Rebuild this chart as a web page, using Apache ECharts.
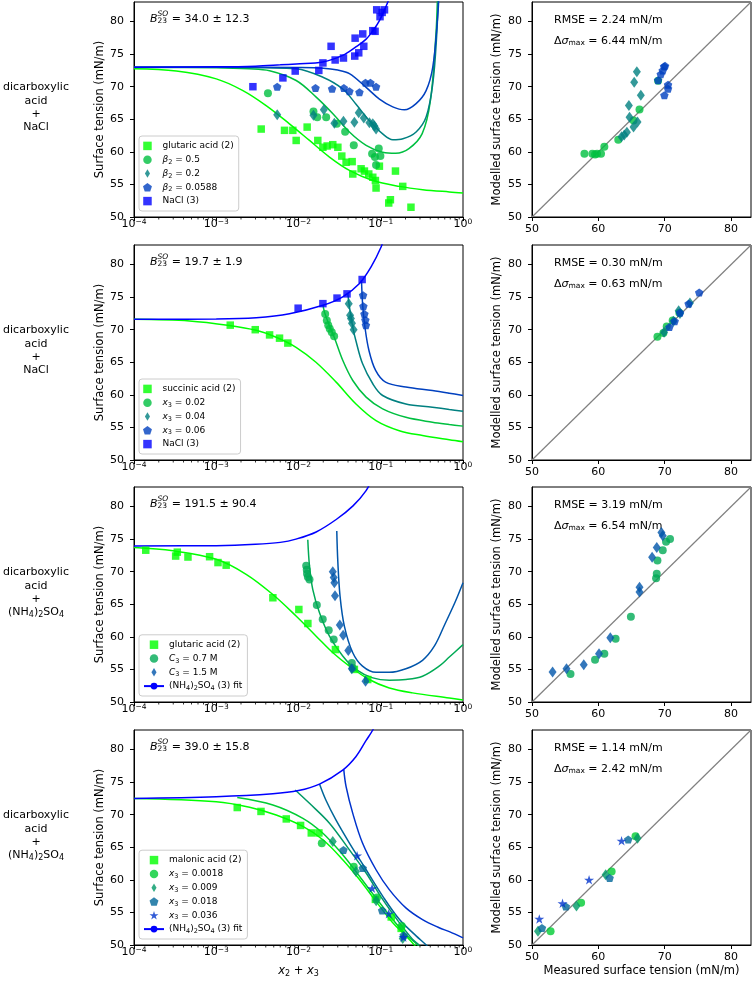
<!DOCTYPE html>
<html><head><meta charset="utf-8">
<script src="https://cdn.jsdelivr.net/npm/echarts@6/dist/echarts.min.js"></script>
<style>html,body{margin:0;padding:0;background:#fff}#c{width:753px;height:982px}</style>
</head><body><div id="c"></div>
<script>
// ================= DATA =================
const yTicks = [50, 55, 60, 65, 70, 75, 80];
const parityXTicks = [50, 60, 70, 80];
const minorTickValues = [2e-4,3e-4,4e-4,5e-4,6e-4,7e-4,8e-4,9e-4,2e-3,3e-3,4e-3,5e-3,6e-3,7e-3,8e-3,9e-3,0.02,0.03,0.04,0.05,0.06,0.07,0.08,0.09,0.2,0.3,0.4,0.5,0.6,0.7,0.8,0.9];
const rowLabels = ['{n|dicarboxylic}\n{n|acid}\n{n|+}\n{n|NaCl}','{n|dicarboxylic}\n{n|acid}\n{n|+}\n{n|NaCl}','{n|dicarboxylic}\n{n|acid}\n{n|+}\n{n|(NH}{s|4}{n|)}{s|2}{n|SO}{s|4}','{n|dicarboxylic}\n{n|acid}\n{n|+}\n{n|(NH}{s|4}{n|)}{s|2}{n|SO}{s|4}'];
const bValues = ['34.0 ± 12.3', '19.7 ± 1.9', '191.5 ± 90.4', '39.0 ± 15.8'];
const rmseValues = ['2.24', '0.30', '3.19', '1.14'];
const dmaxValues = ['6.44', '0.63', '6.54', '2.42'];

// ---- row 1 : glutaric acid + NaCl ----
const r1Glutaric = [[0.00352,63.5],[0.00676,63.3],[0.00853,63.3],[0.00937,61.75],[0.01274,63.8],[0.01717,61.75],[0.0198,60.7],[0.0223,60.9],[0.0261,61.1],[0.0301,60.7],[0.0336,59.35],[0.0379,58.4],[0.0449,58.5],[0.0457,56.6],[0.0577,57.4],[0.0633,57.05],[0.0715,56.6],[0.080,56.1],[0.0861,55.6],[0.0877,54.45],[0.0963,57.8],[0.125,52.15],[0.131,52.65],[0.151,57.05],[0.185,54.7],[0.233,51.5]];
const r1Beta05 = [[0.00425,69.0],[0.0152,66.2],[0.0169,65.3],[0.0217,65.3],[0.0292,64.3],[0.0369,63.1],[0.047,61.0],[0.0785,59.7],[0.085,59.2],[0.0877,58.0],[0.0946,60.5],[0.099,59.35]];
const r1Beta02 = [[0.00551,65.7],[0.0152,65.6],[0.0203,66.45],[0.0273,64.4],[0.0352,64.7],[0.0478,64.55],[0.054,66.0],[0.0622,65.2],[0.0728,64.45],[0.080,64.3],[0.0838,63.95],[0.0877,63.5]];
const r1Beta0588 = [[0.00551,70.0],[0.0161,69.8],[0.0256,69.7],[0.0356,69.8],[0.0416,69.3],[0.0551,69.15],[0.0652,70.6],[0.0749,70.6],[0.0877,70.0]];
const r1NaCl = [[0.00279,70.0],[0.00646,71.35],[0.00912,72.4],[0.01766,72.5],[0.0198,73.65],[0.0249,76.2],[0.0279,74.1],[0.0352,74.4],[0.0483,74.7],[0.0488,77.45],[0.054,75.2],[0.0604,78.1],[0.0622,76.2],[0.080,78.6],[0.0853,78.5],[0.0893,81.8],[0.098,80.75],[0.104,81.4],[0.111,81.8]];
const r1FitGlutaric = [[1e-4,72.75],[3.27e-4,72.4],[1e-3,71.2],[0.00211,69.4],[0.00404,67.1],[0.00776,64.3],[0.0136,61.75],[0.0238,59.2],[0.0416,57.15],[0.08,55.6],[0.169,54.7],[0.324,54.2],[0.682,53.85],[1,53.7]];
const r1FitBeta05 = [[1e-4,72.95],[1e-3,72.9],[0.0025,72.75],[0.00445,72.45],[0.00937,70.95],[0.0164,68.4],[0.0262,65.85],[0.0416,63.05],[0.0664,61.0],[0.1055,59.95],[0.152,59.8],[0.22,60.5],[0.319,62.8],[0.402,67.9],[0.469,78.1],[0.49,84]];
const r1FitBeta02 = [[1e-4,73.0],[1e-3,72.98],[0.004,72.9],[0.00937,72.75],[0.0198,71.45],[0.0345,69.65],[0.0498,67.35],[0.0723,64.8],[0.1055,62.75],[0.14,61.85],[0.186,62.0],[0.269,63.05],[0.356,65.35],[0.429,70.45],[0.48,78.1],[0.5,84]];
const r1FitBeta0588 = [[1e-4,73.0],[1e-3,73.0],[0.01,72.95],[0.02,72.85],[0.03,72.55],[0.0416,72.0],[0.0664,69.9],[0.0964,68.1],[0.14,66.9],[0.194,66.45],[0.269,67.4],[0.356,69.4],[0.429,73.0],[0.492,80.7],[0.51,84]];
const r1FitNaCl = [[1e-4,73.0],[1e-3,73.05],[0.003,73.15],[0.006,73.35],[0.0094,73.5],[0.0198,73.8],[0.0345,74.8],[0.0498,76.1],[0.0664,77.3],[0.0836,78.9],[0.096,80.1],[0.111,81.8],[0.122,83.0],[0.13,84]];
const r1ParBeta05 = [[57.9,59.7],[59.1,59.7],[59.5,59.6],[59.8,59.7],[60.4,59.7],[60.9,60.8],[63.0,61.85],[65.3,64.8],[66.2,66.5],[69.0,70.9]];
const r1ParBeta02 = [[63.5,62.3],[63.9,62.6],[64.3,63.0],[64.6,67.1],[64.7,65.3],[65.3,63.8],[65.4,70.7],[65.8,72.3],[65.9,64.6],[66.4,68.7]];
const r1ParBeta0588 = [[69.0,71.0],[69.4,71.9],[69.7,72.5],[69.9,73.1],[70.05,73.2],[69.95,68.7],[70.5,69.7],[70.5,70.3]];

// ---- row 2 : succinic acid + NaCl ----
const r2Succinic = [[0.00148,70.7],[0.00298,70.0],[0.00445,69.2],[0.00588,68.7],[0.00742,67.95]];
const r2X002 = [[0.0211,72.4],[0.0221,71.4],[0.0230,70.7],[0.0240,70.15],[0.0254,69.6],[0.0271,69.0]];
const r2X004 = [[0.0408,74.0],[0.0424,72.2],[0.0434,71.7],[0.0447,71.0],[0.0468,70.0]];
const r2X006 = [[0.061,75.3],[0.0615,73.6],[0.0633,72.4],[0.065,71.5],[0.066,70.7]];
const r2NaCl = [[0.0099,73.3],[0.0198,74.0],[0.0294,74.85],[0.0389,75.5],[0.0594,77.7]];
const r2FitSuccinic = [[1e-4,71.6],[4.74e-4,71.35],[0.00145,70.65],[0.00306,69.9],[0.00535,68.85],[0.00934,67.3],[0.0163,65.0],[0.0287,61.95],[0.05,58.6],[0.0876,56.05],[0.168,54.5],[0.322,53.75],[0.681,53.1],[1,52.8]];
const r2FitX002 = [[0.0198,73.8],[0.0207,72.7],[0.0237,70.65],[0.0272,68.85],[0.0345,65.3],[0.0457,62.2],[0.0664,59.65],[0.1055,57.85],[0.202,56.55],[0.425,55.8],[0.682,55.45],[1,55.2]];
const r2FitX004 = [[0.0397,75.65],[0.0416,73.5],[0.0457,70.4],[0.0498,68.35],[0.06,64.8],[0.08,61.7],[0.1055,59.9],[0.202,58.6],[0.425,58.1],[0.682,57.75],[1,57.5]];
const r2FitX006 = [[0.0583,77.6],[0.0605,73.5],[0.0642,70.4],[0.0719,66.8],[0.0866,63.75],[0.1145,61.95],[0.202,61.2],[0.425,60.65],[0.682,60.25],[1,59.9]];
const r2FitNaCl = [[1e-4,71.6],[1e-3,71.65],[0.00306,71.85],[0.00777,72.45],[0.0198,73.75],[0.0345,75.05],[0.0551,77.1],[0.0763,79.65],[0.101,82.7],[0.11,84.2]];
const r2ParX002 = [[68.9,68.9],[69.8,69.5],[70.3,70.5],[71.2,71.4],[72.2,72.6]];
const r2ParX004 = [[69.9,69.6],[71.3,71.3],[72.1,72.9],[72.3,72.5],[73.8,74.1]];
const r2ParX006 = [[70.7,70.4],[71.5,71.3],[72.3,72.6],[73.6,74.0],[75.2,75.7]];

// ---- row 3 : glutaric acid + (NH4)2SO4 ----
const r3Glutaric = [[0.000139,73.3],[0.000321,72.4],[0.000336,73.0],[0.000453,72.25],[0.00083,72.3],[0.00105,71.4],[0.00132,71.0],[0.00488,66.0],[0.0101,64.2],[0.013,62.05],[0.0281,58.05],[0.0478,55.0],[0.0695,53.45]];
const r3C07 = [[0.0124,70.9],[0.0126,70.3],[0.0127,69.7],[0.013,69.2],[0.0136,68.8],[0.0167,64.9],[0.0197,62.7],[0.0233,61.0],[0.0268,59.6],[0.0445,56.0],[0.0457,55.2]];
const r3C15 = [[0.0261,70.0],[0.0268,69.1],[0.0273,68.3],[0.0278,66.3],[0.0318,61.8],[0.0349,60.25],[0.0403,57.9],[0.0445,55.1],[0.0653,53.2]];
const r3FitGlutaric = [[1e-4,73.7],[2.98e-4,73.2],[1e-3,71.9],[0.00231,69.6],[0.00488,66.5],[0.00934,63.2],[0.0164,60.1],[0.0262,57.55],[0.0416,55.5],[0.0723,53.45],[0.127,52.15],[0.243,51.4],[0.682,50.6],[1,50.3]];
const r3FitC07 = [[0.01297,74.9],[0.0136,70.9],[0.0149,67.3],[0.018,63.7],[0.0238,60.1],[0.0345,57.05],[0.0498,55.0],[0.08,53.7],[0.127,53.35],[0.202,53.45],[0.322,53.95],[0.513,55.5],[0.682,56.9],[1,58.8]];
const r3FitC15 = [[0.0292,76.25],[0.0301,71.4],[0.032,66.25],[0.0361,61.65],[0.0457,57.55],[0.06,55.5],[0.0876,54.55],[0.127,54.55],[0.202,55.1],[0.322,56.4],[0.45,58.6],[0.6,61.9],[0.8,65.3],[1,68.3]];
const r3FitAS = [[1e-4,73.95],[1e-3,74.0],[0.003,74.2],[0.006,74.5],[0.0093,75.0],[0.0164,76.1],[0.029,78.05],[0.046,80.1],[0.066,82.4],[0.08,84.5]];
const r3ParC07 = [[55.8,54.3],[59.5,56.5],[60.9,57.4],[62.6,59.7],[64.9,63.1],[68.7,69.0],[68.8,69.7],[68.9,71.7],[69.7,73.3],[70.2,74.6],[70.8,75.0]];
const r3ParC15 = [[53.1,54.6],[55.2,55.1],[57.8,55.7],[60.1,57.4],[61.8,59.85],[66.2,67.6],[66.2,66.9],[68.1,72.2],[68.8,73.7],[69.5,76.0],[69.7,75.5]];

// ---- row 4 : malonic acid + (NH4)2SO4 ----
const r4Malonic = [[0.0018,71.1],[0.0035,70.5],[0.0071,69.35],[0.0106,68.35],[0.0143,67.2],[0.0177,67.2],[0.086,57.0],[0.134,54.3],[0.177,52.55]];
const r4X00018 = [[0.0192,65.6],[0.047,62.0],[0.09,57.3],[0.18,52.9]];
const r4X0009 = [[0.0261,65.9],[0.05,61.3],[0.088,56.8],[0.185,51.0]];
const r4X0018 = [[0.0352,64.6],[0.0604,61.8],[0.104,55.3],[0.19,51.5]];
const r4X0036 = [[0.0516,63.7],[0.0785,58.7],[0.125,54.8],[0.189,51.2]];
const r4FitMalonic = [[1e-4,72.5],[1e-3,72.0],[0.00254,71.15],[0.00535,69.95],[0.0113,68.2],[0.0198,66.15],[0.0345,63.1],[0.0551,60.05],[0.0876,56.7],[0.14,53.4],[0.202,51.4],[0.256,50.0],[0.29,49.0]];
const r4FitX00018 = [[0.0018,72.65],[0.00488,71.5],[0.0113,69.45],[0.0198,67.15],[0.0345,63.85],[0.0551,60.55],[0.0876,57.2],[0.14,53.9],[0.202,51.6],[0.281,50.0],[0.31,49.2]];
const r4FitX0009 = [[0.00912,73.8],[0.0136,71.75],[0.0238,68.7],[0.0416,64.6],[0.0664,61.05],[0.1055,57.0],[0.169,53.4],[0.243,50.9],[0.292,50.0],[0.32,49.3]];
const r4FitX0018 = [[0.018,74.7],[0.0215,72.25],[0.0285,69.2],[0.0416,65.65],[0.0664,61.55],[0.1055,57.5],[0.169,53.9],[0.269,51.4],[0.357,50.0],[0.4,49.3]];
const r4FitX0036 = [[0.0355,76.95],[0.0379,74.3],[0.0457,70.2],[0.06,65.65],[0.0876,61.55],[0.127,58.5],[0.202,55.7],[0.322,53.9],[0.513,52.65],[0.682,52.05],[1,51.1]];
const r4FitAS = [[1e-4,72.5],[1e-3,72.75],[0.00488,73.2],[0.01,73.7],[0.018,74.7],[0.0345,76.85],[0.0498,78.9],[0.0664,81.4],[0.08,83.0],[0.09,84.4]];
const r4ParX00018 = [[52.8,52.1],[57.4,56.5],[62.0,61.3],[65.6,66.7]];
const r4ParX0009 = [[50.9,52.1],[56.7,56.0],[61.1,60.8],[65.9,66.4]];
const r4ParX0018 = [[51.5,52.6],[55.1,55.9],[61.7,60.3],[64.5,66.2]];
const r4ParX0036 = [[51.1,54.0],[54.6,56.4],[58.6,60.0],[63.5,66.0]];

const identityLine = [[50,50],[83,83]];

// ================= STYLE / LAYOUT =================
const FONT = 'DejaVu Sans';
const ROW_TOP = [2, 245, 487, 730];
const PH = 215;
const LX = 134, LW = 329, RX = 532, RW = 219;
const CH = 982;
const Y_MIN = 50, Y_MAX = 83;

const C5 = ['#00ff00','#00bf40','#008080','#0040bf','#0000ff'];
const C4 = ['#00ff00','#00aa55','#0055aa','#0000ff'];
const C6 = ['#00ff00','#00cc33','#009966','#006699','#0033cc','#0000ff'];

const SQ = 'path://M0,0L10,0L10,10L0,10Z';
const DM = 'path://M3,0L6,5L3,10L0,5Z';
const PG = 'path://M10,0L19.51,6.91L15.88,18.09L4.12,18.09L0.49,6.91Z';
const ST = 'path://M10,0L12.245,6.91L19.51,6.91L13.63,11.18L15.88,18.09L10,13.82L4.12,18.09L6.37,11.18L0.49,6.91L7.755,6.91Z';
const SYM = {
  sq: {symbol: SQ, size: 7.5, icon: SQ},
  ci: {symbol: 'circle', size: 8, icon: 'circle'},
  dm: {symbol: DM, size: [8, 11], icon: DM},
  pg: {symbol: PG, size: [8.5, 8], icon: PG},
  st: {symbol: ST, size: [10, 9.5], icon: ST}
};

function scatter(name, data, g, sym, color) {
  return {type: 'scatter', name: name, data: data, xAxisIndex: g, yAxisIndex: g,
    symbol: SYM[sym].symbol, symbolSize: SYM[sym].size,
    itemStyle: {color: color, opacity: 0.8}, z: 3, silent: true, emphasis: {disabled: true}};
}
function fit(name, data, g, color) {
  return {type: 'line', name: name, data: data, xAxisIndex: g, yAxisIndex: g,
    symbol: 'none', showSymbol: false, smooth: 0.35,
    lineStyle: {color: color, width: 1.5}, itemStyle: {color: color}, z: 2, silent: true, emphasis: {disabled: true}};
}
function minorTicks(g) {
  return {type: 'custom', xAxisIndex: g, yAxisIndex: g, clip: false, silent: true, z: 5,
    data: minorTickValues.map(v => [v, Y_MIN]),
    renderItem: function (params, api) {
      const p = api.coord([api.value(0), api.value(1)]);
      return {type: 'line', shape: {x1: p[0], y1: p[1], x2: p[0], y2: p[1] + 2.5},
        style: {stroke: '#000', lineWidth: 0.8}};
    }};
}
function diag(g) {
  return {type: 'line', name: '_identity' + g, data: identityLine, xAxisIndex: g, yAxisIndex: g,
    symbol: 'none', lineStyle: {color: '#808080', width: 1.2}, z: 1, silent: true};
}

const LEG_RICH = {
  t: {fontSize: 9, fontFamily: FONT, color: '#000'},
  i: {fontSize: 9, fontFamily: FONT, fontStyle: 'italic', color: '#000'},
  s: {fontSize: 6.5, fontFamily: FONT, color: '#000', lineHeight: 7, padding: [5, 0, 0, 0]}
};
function richify(name) {
  let m = name.match(/^(β|x|C)(\d) = (.*)$/);
  if (m) return '{i|' + m[1] + '}{s|' + m[2] + '}{t| = ' + m[3] + '}';
  if (name.indexOf('(NH4)2SO4') === 0) return '{t|(NH}{s|4}{t|)}{s|2}{t|SO}{s|4}{t|' + name.slice(9) + '}';
  return '{t|' + name + '}';
}
function legend(r, items) {
  return {orient: 'vertical', left: LX + 5, bottom: CH - (ROW_TOP[r] + PH) + 6,
    data: items.map(it => it.icon ? {name: it.name, icon: SYM[it.icon].icon} : {name: it.name}),
    itemWidth: 20, itemHeight: 8.5, itemGap: 0, padding: [3, 5, 3, 4],
    borderColor: '#cccccc', borderWidth: 1, borderRadius: 3, backgroundColor: 'rgba(255,255,255,0.8)',
    selectedMode: false, formatter: richify,
    textStyle: {fontSize: 9, fontFamily: FONT, color: '#000', lineHeight: 13.8, rich: LEG_RICH}};
}

// ================= AXES =================
const grids = [], xAxes = [], yAxes = [];
const tickLabelStyle = {color: '#000', fontSize: 11, fontFamily: FONT};
const nameStyle = {color: '#000', fontSize: 11.5, fontFamily: FONT};
ROW_TOP.forEach((top) => {
  grids.push({left: LX, top: top, width: LW, height: PH, show: true, borderColor: '#000', borderWidth: 1, backgroundColor: 'transparent', containLabel: false, outerBoundsMode: 'none'});
});
ROW_TOP.forEach((top) => {
  grids.push({left: RX, top: top, width: RW, height: PH, show: true, borderColor: '#000', borderWidth: 1, backgroundColor: 'transparent', containLabel: false, outerBoundsMode: 'none'});
});
for (let r = 0; r < 4; r++) {
  const last = r === 3;
  xAxes.push({type: 'log', logBase: 10, gridIndex: r, min: 1e-4, max: 1, splitNumber: 4,
    axisLine: {show: true, lineStyle: {color: '#000', width: 1}},
    axisTick: {show: true, length: 4, lineStyle: {color: '#000', width: 1}},
    splitLine: {show: false}, minorTick: {show: false},
    axisLabel: {margin: 2, color: '#000', fontFamily: FONT,
      formatter: function (v) { const e = Math.round(Math.log10(v)); return '{b|10}{p|' + (e < 0 ? '−' : '') + Math.abs(e) + '}'; },
      rich: {b: {fontSize: 11, fontFamily: FONT, color: '#000', lineHeight: 11},
             p: {fontSize: 7.5, fontFamily: FONT, color: '#000', lineHeight: 7.5, padding: [0, 0, 5, 0]}}},
    name: last ? '{i|x}{s|2}{n| + }{i|x}{s|3}' : '', nameLocation: 'middle', nameGap: 20,
    nameTextStyle: {color: '#000', fontSize: 11.5, fontFamily: FONT,
      rich: {i: {fontSize: 11.5, fontFamily: FONT, fontStyle: 'italic', color: '#000'},
             n: {fontSize: 11.5, fontFamily: FONT, color: '#000'},
             s: {fontSize: 8, fontFamily: FONT, color: '#000', lineHeight: 8, padding: [5, 0, 0, 0]}}}
  });
  yAxes.push({type: 'value', gridIndex: r, min: Y_MIN, max: Y_MAX, interval: 5,
    axisLine: {show: true, lineStyle: {color: '#000', width: 1}},
    axisTick: {show: true, length: 4, lineStyle: {color: '#000', width: 1}, customValues: yTicks},
    axisLabel: Object.assign({margin: 10, customValues: yTicks}, tickLabelStyle),
    splitLine: {show: false},
    name: 'Surface tension (mN/m)', nameLocation: 'middle', nameGap: 28, nameTextStyle: nameStyle});
}
for (let r = 0; r < 4; r++) {
  const last = r === 3;
  xAxes.push({type: 'value', gridIndex: 4 + r, min: Y_MIN, max: Y_MAX, interval: 10,
    axisLine: {show: true, lineStyle: {color: '#000', width: 1}},
    axisTick: {show: true, length: 4, lineStyle: {color: '#000', width: 1}, customValues: parityXTicks},
    axisLabel: Object.assign({margin: 7, customValues: parityXTicks}, tickLabelStyle),
    splitLine: {show: false},
    name: last ? 'Measured surface tension (mN/m)' : '', nameLocation: 'middle', nameGap: 20, nameTextStyle: nameStyle});
  yAxes.push({type: 'value', gridIndex: 4 + r, min: Y_MIN, max: Y_MAX, interval: 5,
    axisLine: {show: true, lineStyle: {color: '#000', width: 1}},
    axisTick: {show: true, length: 4, lineStyle: {color: '#000', width: 1}, customValues: yTicks},
    axisLabel: Object.assign({margin: 10, customValues: yTicks}, tickLabelStyle),
    splitLine: {show: false},
    name: 'Modelled surface tension (mN/m)', nameLocation: 'middle', nameGap: 29, nameTextStyle: nameStyle});
}

// ================= SERIES =================
const series = [];
series.push(fit('_f1a', r1FitGlutaric, 0, C5[0]), fit('_f1b', r1FitBeta05, 0, C5[1]), fit('_f1c', r1FitBeta02, 0, C5[2]), fit('_f1d', r1FitBeta0588, 0, C5[3]), fit('_f1e', r1FitNaCl, 0, C5[4]));
series.push(scatter('glutaric acid (2)', r1Glutaric, 0, 'sq', C5[0]), scatter('β2 = 0.5', r1Beta05, 0, 'ci', C5[1]), scatter('β2 = 0.2', r1Beta02, 0, 'dm', C5[2]), scatter('β2 = 0.0588', r1Beta0588, 0, 'pg', C5[3]), scatter('NaCl (3)', r1NaCl, 0, 'sq', C5[4]));
series.push(fit('_f2a', r2FitSuccinic, 1, C5[0]), fit('_f2b', r2FitX002, 1, C5[1]), fit('_f2c', r2FitX004, 1, C5[2]), fit('_f2d', r2FitX006, 1, C5[3]), fit('_f2e', r2FitNaCl, 1, C5[4]));
series.push(scatter('succinic acid (2)', r2Succinic, 1, 'sq', C5[0]), scatter('x3 = 0.02', r2X002, 1, 'ci', C5[1]), scatter('x3 = 0.04', r2X004, 1, 'dm', C5[2]), scatter('x3 = 0.06', r2X006, 1, 'pg', C5[3]), scatter('NaCl (3)', r2NaCl, 1, 'sq', C5[4]));
series.push(fit('_f3a', r3FitGlutaric, 2, C4[0]), fit('_f3b', r3FitC07, 2, C4[1]), fit('_f3c', r3FitC15, 2, C4[2]), fit('(NH4)2SO4 (3) fit', r3FitAS, 2, C4[3]));
series.push(scatter('glutaric acid (2)', r3Glutaric, 2, 'sq', C4[0]), scatter('C3 = 0.7 M', r3C07, 2, 'ci', C4[1]), scatter('C3 = 1.5 M', r3C15, 2, 'dm', C4[2]));
series.push(fit('_f4a', r4FitMalonic, 3, C6[0]), fit('_f4b', r4FitX00018, 3, C6[1]), fit('_f4c', r4FitX0009, 3, C6[2]), fit('_f4d', r4FitX0018, 3, C6[3]), fit('_f4e', r4FitX0036, 3, C6[4]), fit('(NH4)2SO4 (3) fit', r4FitAS, 3, C6[5]));
series.push(scatter('malonic acid (2)', r4Malonic, 3, 'sq', C6[0]), scatter('x3 = 0.0018', r4X00018, 3, 'ci', C6[1]), scatter('x3 = 0.009', r4X0009, 3, 'dm', C6[2]), scatter('x3 = 0.018', r4X0018, 3, 'pg', C6[3]), scatter('x3 = 0.036', r4X0036, 3, 'st', C6[4]));
for (let r = 0; r < 4; r++) series.push(diag(4 + r));
series.push(scatter('_p1a', r1ParBeta05, 4, 'ci', C5[1]), scatter('_p1b', r1ParBeta02, 4, 'dm', C5[2]), scatter('_p1c', r1ParBeta0588, 4, 'pg', C5[3]));
series.push(scatter('_p2a', r2ParX002, 5, 'ci', C5[1]), scatter('_p2b', r2ParX004, 5, 'dm', C5[2]), scatter('_p2c', r2ParX006, 5, 'pg', C5[3]));
series.push(scatter('_p3a', r3ParC07, 6, 'ci', C4[1]), scatter('_p3b', r3ParC15, 6, 'dm', C4[2]));
series.push(scatter('_p4a', r4ParX00018, 7, 'ci', C6[1]), scatter('_p4b', r4ParX0009, 7, 'dm', C6[2]), scatter('_p4c', r4ParX0018, 7, 'pg', C6[3]), scatter('_p4d', r4ParX0036, 7, 'st', C6[4]));
for (let r = 0; r < 4; r++) series.push(minorTicks(r));

const legends = [
  legend(0, [{name: 'glutaric acid (2)', icon: 'sq'}, {name: 'β2 = 0.5', icon: 'ci'}, {name: 'β2 = 0.2', icon: 'dm'}, {name: 'β2 = 0.0588', icon: 'pg'}, {name: 'NaCl (3)', icon: 'sq'}]),
  legend(1, [{name: 'succinic acid (2)', icon: 'sq'}, {name: 'x3 = 0.02', icon: 'ci'}, {name: 'x3 = 0.04', icon: 'dm'}, {name: 'x3 = 0.06', icon: 'pg'}, {name: 'NaCl (3)', icon: 'sq'}]),
  legend(2, [{name: 'glutaric acid (2)', icon: 'sq'}, {name: 'C3 = 0.7 M', icon: 'ci'}, {name: 'C3 = 1.5 M', icon: 'dm'}, {name: '(NH4)2SO4 (3) fit'}]),
  legend(3, [{name: 'malonic acid (2)', icon: 'sq'}, {name: 'x3 = 0.0018', icon: 'ci'}, {name: 'x3 = 0.009', icon: 'dm'}, {name: 'x3 = 0.018', icon: 'pg'}, {name: 'x3 = 0.036', icon: 'st'}, {name: '(NH4)2SO4 (3) fit'}])
];

// ================= TEXT ANNOTATIONS =================
const graphics = [];
const F11 = '11px "DejaVu Sans"';
ROW_TOP.forEach((top, r) => {
  graphics.push({type: 'text', x: 36, y: top + PH / 2 - 2, style: {text: rowLabels[r], align: 'center', verticalAlign: 'middle', textAlign: 'center', textVerticalAlign: 'middle', fill: '#000',
    rich: {n: {fontSize: 11, fontFamily: FONT, color: '#000', lineHeight: 13.3}, s: {fontSize: 8, fontFamily: FONT, color: '#000', lineHeight: 8, padding: [5, 0, 0, 0]}}}});
  const by = top + 17.2;
  graphics.push({type: 'text', x: LX + 16, y: by, style: {text: 'B', font: 'italic ' + F11, fill: '#000', verticalAlign: 'middle', textVerticalAlign: 'middle'}});
  graphics.push({type: 'text', x: LX + 23.5, y: by - 5.4, style: {text: 'SO', font: 'italic 7.5px "DejaVu Sans"', fill: '#000', verticalAlign: 'middle', textVerticalAlign: 'middle'}});
  graphics.push({type: 'text', x: LX + 23.5, y: by + 2.2, style: {text: '23', font: '7.5px "DejaVu Sans"', fill: '#000', verticalAlign: 'middle', textVerticalAlign: 'middle'}});
  graphics.push({type: 'text', x: LX + 37.7, y: by, style: {text: '= ' + bValues[r], font: F11, fill: '#000', verticalAlign: 'middle', textVerticalAlign: 'middle'}});
  graphics.push({type: 'text', x: RX + 22, y: top + 18.5, style: {text: 'RMSE = ' + rmseValues[r] + ' mN/m', font: F11, fill: '#000', verticalAlign: 'middle', textVerticalAlign: 'middle'}});
  graphics.push({type: 'text', x: RX + 22, y: top + 39, style: {text: '{n|Δ}{i|σ}{s|max}{n| = ' + dmaxValues[r] + ' mN/m}', fill: '#000', verticalAlign: 'middle', textVerticalAlign: 'middle',
    rich: {n: {fontSize: 11, fontFamily: FONT, color: '#000', lineHeight: 13}, i: {fontSize: 11, fontFamily: FONT, fontStyle: 'italic', color: '#000', lineHeight: 13}, s: {fontSize: 7.5, fontFamily: FONT, color: '#000', lineHeight: 7.5, padding: [5, 0, 0, 0]}}}});
});

const chart = echarts.init(document.getElementById('c'), null, {renderer: 'canvas'});
chart.setOption({
  animation: false,
  backgroundColor: '#ffffff',
  textStyle: {fontFamily: FONT},
  grid: grids, xAxis: xAxes, yAxis: yAxes,
  legend: legends, series: series, graphic: graphics
});
</script></body></html>
